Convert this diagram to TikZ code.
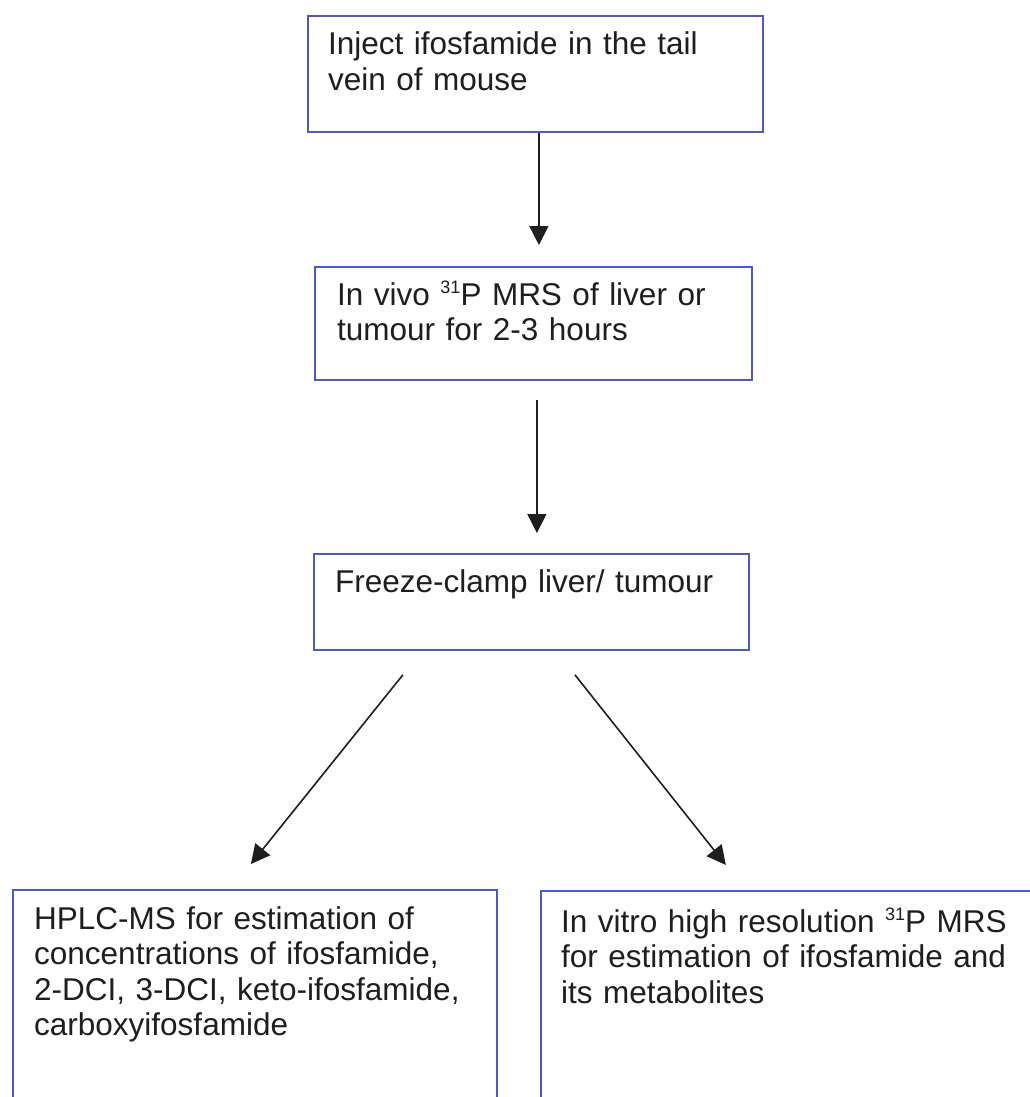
\documentclass[tikz,border=0pt]{standalone}
\usepackage{fontspec}
\setmainfont{Liberation Sans}
\usetikzlibrary{arrows.meta}
\definecolor{boxblue}{RGB}{78,88,205}
\definecolor{ink}{RGB}{30,30,30}
\newcommand{\supnum}[1]{\raisebox{12pt}{\fontsize{18}{18}\selectfont #1}}
\tikzset{
  box/.style={draw=boxblue, line width=1.8pt, rectangle, inner sep=0pt, anchor=north west},
  txt/.style={inner sep=0pt, anchor=base west, text width=520pt, align=left, text=ink,
              font=\fontsize{31.5}{35.5}\selectfont},
  arr/.style={draw=ink, line width=1.6pt, -{Triangle[length=19pt,width=19pt]}}
}
\begin{document}
\begin{tikzpicture}[x=1pt,y=-1pt]
\useasboundingbox[fill=white] (0,0) rectangle (1030,1097);
% boxes
\node[box, minimum width=455pt, minimum height=116pt] (b1) at (307,15) {};
\node[box, minimum width=437pt, minimum height=113pt] (b2) at (314,266) {};
\node[box, minimum width=435pt, minimum height=96pt] (b3) at (313,553) {};
\node[box, minimum width=484pt, minimum height=230pt] (bl) at (12,889) {};
\node[box, minimum width=520pt, minimum height=230pt] (br) at (540,890) {};
% texts
\node[txt] (t1) at (328,55) {Inject ifosfamide in the tail\\vein of mouse};
\node[txt] (t2) at (337,305) {In vivo \supnum{31}P MRS of liver or\\tumour for 2-3 hours};
\node[txt] (t3) at (335,592) {Freeze-clamp liver/ tumour};
\node[txt] (tl) at (34,929) {HPLC-MS for estimation of\\concentrations of ifosfamide,\\2-DCI, 3-DCI, keto-ifosfamide,\\carboxyifosfamide};
\node[txt] (tr) at (561,932) {In vitro high resolution \supnum{31}P MRS\\for estimation of ifosfamide and\\its metabolites};
% arrows
\draw[arr] ([xshift=3.5pt]b1.south) -- ([xshift=5.5pt,yshift=21pt]b2.north);
\draw[arr] ([xshift=3.5pt,yshift=-19pt]b2.south) -- ([xshift=5.5pt,yshift=20pt]b3.north);
\draw[arr] ([xshift=-128.5pt,yshift=-24pt]b3.south) -- ([xshift=-4pt,yshift=25pt]bl.north);
\draw[arr] ([xshift=43.5pt,yshift=-24pt]b3.south) -- ([xshift=-75pt,yshift=25pt]br.north);
\end{tikzpicture}
\end{document}
